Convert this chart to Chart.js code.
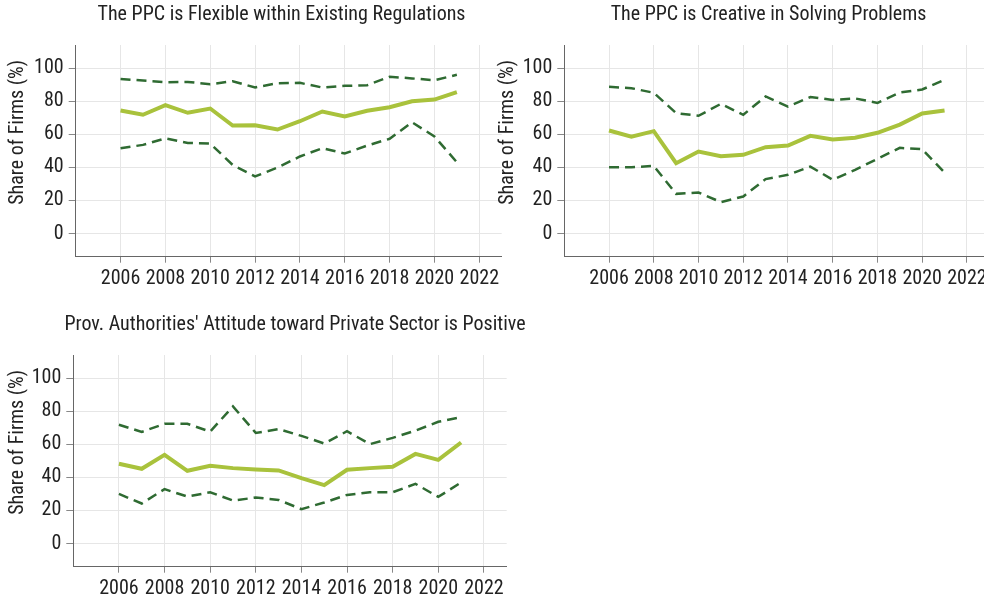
<!DOCTYPE html>
<html>
<head>
<meta charset="utf-8">
<script src="https://cdn.jsdelivr.net/npm/chart.js@4.4.1/dist/chart.umd.min.js"></script>
<style>
  body { margin: 0; width: 984px; height: 601px; overflow: hidden; background: #fff; position: relative; }
  .painel { position: absolute; }
</style>
</head>
<body>
<div class="painel" style="left:0px;top:0px;width:563px;height:300px"><canvas id="graficoFlexivel"></canvas></div>
<div class="painel" style="left:488px;top:0px;width:561px;height:300px"><canvas id="graficoCriativo"></canvas></div>
<div class="painel" style="left:0px;top:310px;width:590px;height:300px"><canvas id="graficoAtitude"></canvas></div>
<script>
const anos = [2006, 2007, 2008, 2009, 2010, 2011, 2012, 2013, 2014, 2015, 2016, 2017, 2018, 2019, 2020, 2021]
const ticksX = [2006, 2008, 2010, 2012, 2014, 2016, 2018, 2020, 2022]
const ticksY = [0, 20, 40, 60, 80, 100]

// PPC flexivel
const flexivelMedia = [74.4, 71.8, 77.6, 73.0, 75.6, 65.3, 65.5, 62.9, 67.9, 73.8, 70.8, 74.2, 76.4, 80.0, 81.0, 85.5]
const flexivelSup = [93.5, 92.5, 91.5, 91.7, 90.3, 92.1, 88.3, 90.9, 91.1, 88.3, 89.3, 89.7, 94.8, 93.8, 92.7, 96.0]
const flexivelInf = [51.6, 53.6, 57.5, 54.8, 54.4, 41.5, 34.5, 39.9, 46.6, 51.6, 48.4, 53.2, 57.3, 67.3, 58.7, 43.1]

// PPC criativo
const criativoMedia = [62.3, 58.5, 61.9, 42.5, 49.6, 46.8, 47.6, 52.2, 53.2, 59.1, 56.9, 57.9, 60.9, 65.9, 72.6, 74.4]
const criativoSup = [88.7, 87.9, 85.1, 72.8, 71.2, 78.4, 71.8, 82.9, 76.8, 82.5, 80.8, 81.7, 79.0, 85.3, 87.1, 92.9]
const criativoInf = [40.1, 40.1, 40.9, 24.0, 24.8, 19.0, 22.4, 32.9, 35.5, 40.5, 32.5, 38.5, 45.2, 51.8, 51.0, 36.9]

// atitude das autoridades
const atitudeMedia = [48.2, 45.2, 53.6, 44.0, 47.0, 45.6, 44.8, 44.2, 39.5, 35.3, 44.6, 45.6, 46.4, 54.2, 50.6, 61.1]
const atitudeSup = [71.8, 67.5, 72.4, 72.4, 67.7, 82.9, 66.9, 69.2, 65.1, 60.5, 67.9, 60.1, 63.9, 68.3, 73.6, 76.4]
const atitudeInf = [30.0, 24.2, 32.9, 28.4, 31.0, 26.0, 27.8, 26.4, 20.8, 24.8, 29.4, 31.0, 31.0, 36.1, 28.2, 36.9]

const fonte = "'Liberation Sans Narrow', 'Roboto Condensed', 'DejaVu Sans Condensed', sans-serif"
Chart.defaults.font.family = fonte
Chart.defaults.color = '#222'

// rotulo do eixo Y, um pouco acima do centro como no original
const rotuloEixoY = {
  id: 'rotuloEixoY',
  afterDraw(chart, args, opts) {
    const { ctx, chartArea } = chart
    ctx.save()
    ctx.translate(opts.x, (chartArea.top + chartArea.bottom) / 2 + opts.deslocamento)
    ctx.rotate(-Math.PI / 2)
    ctx.font = '20px ' + fonte
    ctx.fillStyle = '#222'
    ctx.textAlign = 'center'
    ctx.textBaseline = 'middle'
    ctx.fillText(opts.texto, 0, 0)
    ctx.restore()
  }
}

function pontos(serie) {
  return anos.map((ano, i) => ({ x: ano, y: serie[i] }))
}

function criaGrafico(id, titulo, media, sup, inf, larguraY, folgaDireita, rotuloX) {
  const tracejada = {
    borderColor: '#2f6b32',
    borderWidth: 2.5,
    borderDash: [10, 6],
    pointRadius: 0,
    fill: false
  }
  // eslint-disable-next-line no-undef
  return new Chart(document.getElementById(id), {
    type: 'line',
    data: {
      datasets: [
        { ...tracejada, label: 'superior', data: pontos(sup) },
        { ...tracejada, label: 'inferior', data: pontos(inf) },
        { label: 'media', data: pontos(media), borderColor: '#a9c23c', borderWidth: 4, pointRadius: 0, fill: false }
      ]
    },
    plugins: [rotuloEixoY],
    options: {
      responsive: true,
      maintainAspectRatio: false,
      animation: false,
      layout: { padding: 0 },
      plugins: {
        legend: { display: false },
        tooltip: { enabled: false },
        title: {
          display: true,
          text: titulo,
          color: '#222',
          font: { size: 20, weight: 'normal', lineHeight: 1.2 },
          padding: { top: 3, bottom: 18 }
        },
        rotuloEixoY: { texto: 'Share of Firms (%)', x: rotuloX, deslocamento: -18.5 }
      },
      scales: {
        x: {
          type: 'linear',
          min: 2004,
          max: 2023,
          afterBuildTicks: scale => { scale.ticks = ticksX.map(v => ({ value: v })) },
          afterFit: scale => { scale.height = 43.3; scale.paddingLeft = 0; scale.paddingRight = folgaDireita },
          ticks: { callback: v => String(v), font: { size: 20 }, padding: 4, maxRotation: 0, autoSkip: false },
          grid: { color: '#e6e6e6', tickColor: '#888', tickLength: 6 },
          border: { color: '#666', width: 1 }
        },
        y: {
          min: -14,
          max: 114,
          afterBuildTicks: scale => { scale.ticks = ticksY.map(v => ({ value: v })) },
          afterFit: scale => { scale.width = larguraY; scale.paddingTop = 0; scale.paddingBottom = 0 },
          ticks: { font: { size: 20 }, padding: 5 },
          grid: { color: '#e6e6e6', tickColor: '#888', tickLength: 7 },
          border: { color: '#666', width: 1 }
        }
      }
    }
  })
}

criaGrafico('graficoFlexivel', 'The PPC is Flexible within Existing Regulations', flexivelMedia, flexivelSup, flexivelInf, 75.7, 61.3, 18.3)
criaGrafico('graficoCriativo', 'The PPC is Creative in Solving Problems', criativoMedia, criativoSup, criativoInf, 76.3, 59.7, 20)
criaGrafico('graficoAtitude', "Prov. Authorities' Attitude toward Private Sector is Positive", atitudeMedia, atitudeSup, atitudeInf, 73.3, 83.3, 18)
</script>
</body>
</html>
